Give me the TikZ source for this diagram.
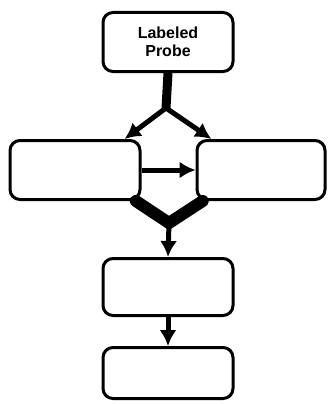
\documentclass[tikz,border=0pt]{standalone}
\usepackage{fontspec}
\setmainfont{Liberation Sans}
\usetikzlibrary{arrows.meta,positioning}

\begin{document}
\begin{tikzpicture}[x=1pt,y=-1pt,
	box/.style={draw, line width=3pt, fill=white, rounded corners=10pt, align=center, minimum width=130pt, minimum height=59pt, inner sep=0pt},
	flow/.style={line width=5pt, -{Latex[length=16pt,width=17pt]}}]
	\useasboundingbox (0,0) rectangle (328,404);
	
	\node[box,font=\bfseries\fontsize{16}{18}\selectfont] (probe) at (168,42) {Labeled\\Probe};
	\node[box] (left) at (75,170) {};
	\node[box, minimum width=128pt] (right) at (261,170) {};
	\node[box, minimum height=57pt] (mid) at (168,287) {};
	\node[box, minimum height=51pt] (low) at (168,373) {};
	
	\coordinate (split) at (166,108);
	\coordinate (join) at (169,223);
	
	\draw[line width=9pt] (probe.south) -- (split);
	\draw[flow] (split) -- (left.32);
	\draw[flow] (split) -- (right.148);
	\draw[flow] (left.east) -- (right.west);
	
	\draw[line width=12pt,line cap=round] (left.-27) -- (join) -- (right.208);
	\draw[flow] (join) -- (mid.north);
	\draw[flow] (mid.south) -- (low.north);
	
\end{tikzpicture}
\end{document}
